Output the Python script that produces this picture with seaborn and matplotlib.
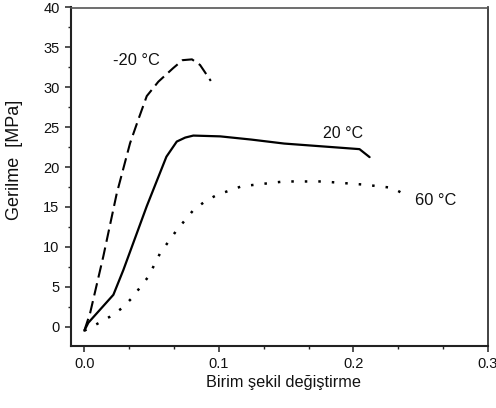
import matplotlib
matplotlib.use("Agg")
import matplotlib.pyplot as plt
from matplotlib.ticker import AutoMinorLocator
import seaborn as sns
import pandas as pd

# ---- data ----
x_m20 = [0.0, 0.0043, 0.0141, 0.0241, 0.034, 0.040, 0.0464, 0.055, 0.066, 0.073, 0.080, 0.086, 0.094]
y_m20 = [-0.5, 1.7, 8.8, 16.7, 23.0, 25.9, 28.9, 30.7, 32.4, 33.4, 33.5, 32.8, 30.8]

x_20 = [0.0, 0.003, 0.0216, 0.029, 0.0464, 0.061, 0.0687, 0.075, 0.081, 0.101, 0.124, 0.1485, 0.2045, 0.212]
y_20 = [-0.5, 0.5, 4.0, 7.1, 15.1, 21.3, 23.2, 23.7, 23.95, 23.85, 23.45, 22.95, 22.25, 21.25]

x_60 = [0.0, 0.0104, 0.019, 0.0278, 0.0352, 0.0476, 0.0563, 0.0687, 0.081, 0.0897, 0.0984,
        0.117, 0.1485, 0.177, 0.208, 0.229, 0.2376]
y_60 = [-0.5, 0.43, 1.25, 2.3, 3.56, 6.27, 9.2, 12.1, 14.6, 15.7, 16.5,
        17.6, 18.2, 18.2, 17.8, 17.4, 16.6]

series_labels = ["-20 °C", "20 °C", "60 °C"]
x_ticks = [0.0, 0.1, 0.2, 0.3]
x_tick_labels = ["0.0", "0.1", "0.2", "0.3"]
y_ticks = [0, 5, 10, 15, 20, 25, 30, 35, 40]
x_label = "Birim şekil değiştirme"
y_label = "Gerilme  [MPa]"

sns.set_style("ticks")
plt.rcParams["font.family"] = ["Liberation Sans", "DejaVu Sans"]

fig = plt.figure(figsize=(4.96, 4.08), dpi=100)
ax = fig.add_axes([71 / 496, 1 - 346 / 408, (488 - 71) / 496, (346 - 7.5) / 408])

df_m20 = pd.DataFrame({"x": x_m20, "y": y_m20})
df_20 = pd.DataFrame({"x": x_20, "y": y_20})
df_60 = pd.DataFrame({"x": x_60, "y": y_60})

sns.lineplot(data=df_m20, x="x", y="y", ax=ax, color="black", linewidth=1.5,
             linestyle=(0, (6, 2.8)), sort=False, estimator=None)
sns.lineplot(data=df_20, x="x", y="y", ax=ax, color="black", linewidth=1.6,
             sort=False, estimator=None)
sns.lineplot(data=df_60, x="x", y="y", ax=ax, color="black", linewidth=1.8,
             linestyle=(0, (1, 4.4)), sort=False, estimator=None)

ax.text(0.0211, 32.8, series_labels[0], fontsize=11.8, va="baseline", ha="left", color="#111")
ax.text(0.1773, 23.6, series_labels[1], fontsize=11.5, va="baseline", ha="left", color="#111")
ax.text(0.2459, 15.27, series_labels[2], fontsize=11.8, va="baseline", ha="left", color="#111")

ax.set_xlim(-0.0099, 0.3)
ax.set_ylim(-2.42, 40)
ax.set_xticks(x_ticks)
ax.set_xticklabels(x_tick_labels)
ax.set_yticks(y_ticks)
ax.xaxis.set_minor_locator(AutoMinorLocator(3))
ax.yaxis.set_minor_locator(AutoMinorLocator(2))

ax.set_xlabel(x_label, fontsize=11.7, color="#111")
ax.set_ylabel(y_label, fontsize=13, color="#111")
ax.xaxis.set_label_coords((284 - 71) / 417, -(383 - 346) / 338.5, transform=ax.transAxes)
ax.yaxis.set_label_coords((15 - 71) / 417, (346 - 159.5) / 338.5, transform=ax.transAxes)
ax.xaxis.label.set_va("center")
ax.yaxis.label.set_va("center")

for side in ["left", "bottom"]:
    ax.spines[side].set_linewidth(1.5)
    ax.spines[side].set_color("#222")
for side in ["top", "right"]:
    ax.spines[side].set_visible(True)
    ax.spines[side].set_linewidth(1.2)
ax.spines["top"].set_color("#555")
ax.spines["right"].set_color("#222")

ax.tick_params(which="major", direction="out", length=4.2, width=1.1, labelsize=10.5,
               colors="#222", labelcolor="#111", pad=4)
ax.tick_params(which="minor", direction="out", length=2.4, width=1.0, colors="#222")
ax.tick_params(top=False, right=False, which="both")

fig.savefig("out.png", dpi=100, facecolor="white")
